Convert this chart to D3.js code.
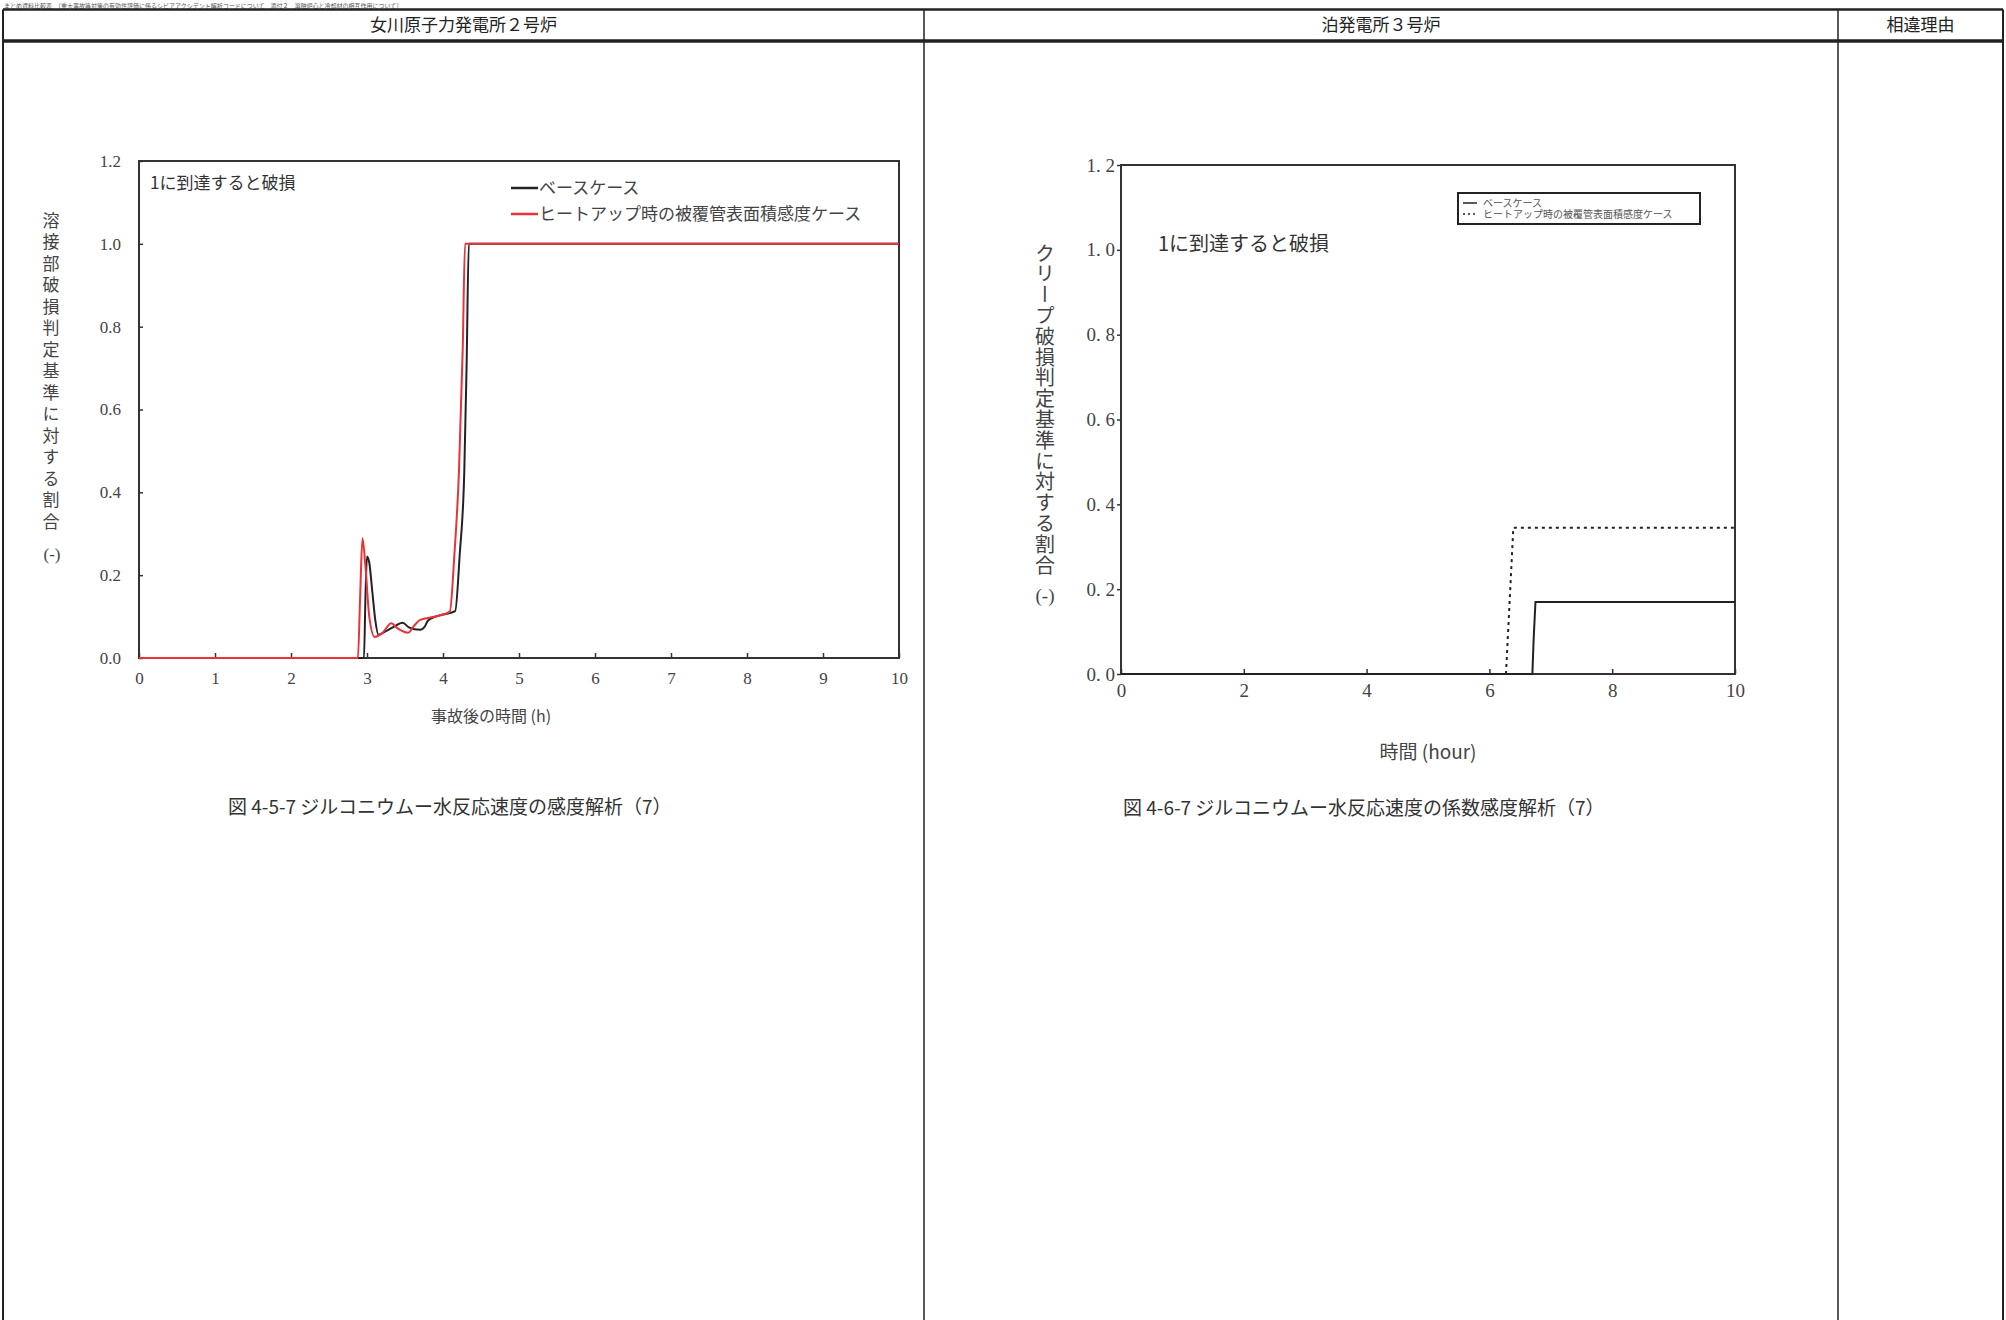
<!DOCTYPE html>
<html>
<head>
<meta charset="utf-8">
<script src="https://cdn.jsdelivr.net/npm/d3@7"></script>
<style>
  body { margin: 0; background: #fff; }
  svg { display: block; }
  text { font-family: "Liberation Serif", "Noto Sans CJK JP", serif; fill: #333; }
  .jp { font-family: "Noto Sans CJK JP", sans-serif; }
</style>
</head>
<body>
<script>
/*
    DATA
*/
// table header cells
var headers = ["女川原子力発電所２号炉", "泊発電所３号炉", "相違理由"];
var captions = ["図 4-5-7 ジルコニウムー水反応速度の感度解析（7）", "図 4-6-7 ジルコニウムー水反応速度の係数感度解析（7）"];

// left chart (Onagawa): base case (black) and heat-up surface area case (red)
var leftXTicks = [0, 1, 2, 3, 4, 5, 6, 7, 8, 9, 10];
var leftYTicks = [0, 0.2, 0.4, 0.6, 0.8, 1.0, 1.2];
var leftBaseT = [0, 2.96, 2.98, 3.0, 3.03, 3.07, 3.11, 3.15, 3.25, 3.35, 3.47, 3.55, 3.7, 3.76, 3.8, 3.9, 4.0, 4.16, 4.22, 4.28, 4.31, 4.34, 10];
var leftBaseV = [0, 0, 0.15, 0.245, 0.23, 0.16, 0.09, 0.056, 0.065, 0.075, 0.085, 0.074, 0.068, 0.076, 0.09, 0.1, 0.105, 0.113, 0.25, 0.45, 0.7, 1.0, 1.0];
var leftRedT = [0, 2.88, 2.91, 2.94, 2.98, 3.03, 3.1, 3.2, 3.32, 3.4, 3.54, 3.62, 3.7, 3.9, 4.09, 4.15, 4.21, 4.26, 4.29, 10];
var leftRedV = [0, 0, 0.15, 0.289, 0.22, 0.1, 0.051, 0.06, 0.084, 0.072, 0.061, 0.078, 0.092, 0.1, 0.112, 0.25, 0.45, 0.75, 1.0, 1.0];
var leftLegend = ["ベースケース", "ヒートアップ時の被覆管表面積感度ケース"];

// right chart (Tomari): base case (solid) and heat-up case (dotted)
var rightXTicks = [0, 2, 4, 6, 8, 10];
var rightYTicks = [0, 0.2, 0.4, 0.6, 0.8, 1.0, 1.2];
var rightBaseT = [0, 6.70, 6.72, 6.75, 10];
var rightBaseV = [0, 0, 0.08, 0.17, 0.17];
var rightDotT = [0, 6.27, 6.39, 10];
var rightDotV = [0, 0, 0.345, 0.345];
var rightLegend = ["ベースケース", "ヒートアップ時の被覆管表面積感度ケース"];

function zip(t, v) { return t.map(function(d, i) { return [d, v[i]]; }); }

/*
    PAGE
*/
var W = 2006, H = 1320;
var svg = d3.select("body").append("svg").attr("width", W).attr("height", H);
svg.append("rect").attr("width", W).attr("height", H).attr("fill", "#fff");

// small title line at very top of the page (cut off in the source scan)
svg.append("text").attr("class", "jp")
  .attr("x", 4).attr("y", 8)
  .style("font-size", "6px").style("fill", "#555")
  .text("まとめ資料比較表　〔重大事故等対策の有効性評価に係るシビアアクシデント解析コードについて　添付２　溶融炉心と冷却材の相互作用について〕");

/*
    TABLE
*/
var colX = [3, 924, 1838, 2003];
var tbl = svg.append("g").attr("stroke", "#222").attr("fill", "none");
tbl.append("line").attr("x1", colX[0]).attr("x2", colX[3]).attr("y1", 9.5).attr("y2", 9.5).attr("stroke-width", 2.5);
tbl.append("line").attr("x1", colX[0]).attr("x2", colX[3]).attr("y1", 41).attr("y2", 41).attr("stroke-width", 3.5);
colX.forEach(function(x, i) {
  tbl.append("line").attr("x1", x).attr("x2", x).attr("y1", 9.5).attr("y2", H)
    .attr("stroke-width", (i == 0 || i == 3) ? 2 : 1.5);
});
headers.forEach(function(h, i) {
  svg.append("text").attr("class", "jp")
    .attr("x", (colX[i] + colX[i + 1]) / 2).attr("y", 31)
    .attr("text-anchor", "middle").style("font-size", "17px").style("fill", "#222")
    .text(h);
});

/*
    LEFT CHART
*/
var lx = d3.scaleLinear().domain([0, 10]).range([139, 899]);
var ly = d3.scaleLinear().domain([0, 1.2]).range([658, 161]);

var left = svg.append("g");
left.append("rect").attr("x", lx(0)).attr("y", ly(1.2))
  .attr("width", lx(10) - lx(0)).attr("height", ly(0) - ly(1.2))
  .attr("fill", "none").attr("stroke", "#333").attr("stroke-width", 2);

var lxAxis = left.append("g").attr("transform", "translate(0," + ly(0) + ")")
  .call(d3.axisBottom(lx).tickValues(leftXTicks).tickFormat(d3.format("d")).tickSizeInner(-5).tickSizeOuter(0).tickPadding(14));
var lyAxis = left.append("g").attr("transform", "translate(" + lx(0) + ",0)")
  .call(d3.axisLeft(ly).tickValues(leftYTicks).tickFormat(d3.format(".1f")).tickSizeInner(-4).tickSizeOuter(0).tickPadding(18));
[lxAxis, lyAxis].forEach(function(a) {
  a.select(".domain").remove();
  a.selectAll("line").attr("stroke", "#333").attr("stroke-width", 1.5);
  a.selectAll("text").style("font-size", "17px").style("fill", "#444")
    .style("font-family", "Liberation Serif, serif");
});

var lline = d3.line().x(function(d) { return lx(d[0]); }).y(function(d) { return ly(d[1]); })
  .curve(d3.curveMonotoneX);
left.append("path").datum(zip(leftBaseT, leftBaseV)).attr("d", lline)
  .attr("fill", "none").attr("stroke", "#222").attr("stroke-width", 2);
left.append("path").datum(zip(leftRedT, leftRedV)).attr("d", lline)
  .attr("fill", "none").attr("stroke", "#e8333a").attr("stroke-width", 2);

left.append("text").attr("class", "jp").attr("x", 150).attr("y", 189)
  .style("font-size", "17px").text("1に到達すると破損");

// legend
var lcols = ["#222", "#e8333a"];
leftLegend.forEach(function(t, i) {
  var y = 188 + i * 26;
  left.append("line").attr("x1", 511).attr("x2", 538).attr("y1", y).attr("y2", y)
    .attr("stroke", lcols[i]).attr("stroke-width", 2.5);
  left.append("text").attr("class", "jp").attr("x", 539).attr("y", y + 6)
    .style("font-size", "17px").style("fill", "#444").text(t);
});

// axis titles
left.append("text").attr("class", "jp")
  .attr("x", 51).attr("y", 212)
  .style("writing-mode", "vertical-rl").style("text-orientation", "upright")
  .style("font-size", "17px").style("letter-spacing", "4.5px").style("fill", "#444")
  .text("溶接部破損判定基準に対する割合");
left.append("text").attr("x", 52).attr("y", 560).attr("text-anchor", "middle")
  .style("font-size", "17px").style("fill", "#444").text("(-)");
left.append("text").attr("class", "jp").attr("x", 491).attr("y", 722).attr("text-anchor", "middle")
  .style("font-size", "16px").style("fill", "#444").text("事故後の時間 (h)");

svg.append("text").attr("class", "jp").attr("x", 228).attr("y", 814)
  .style("font-size", "19px").style("fill", "#333").text(captions[0]);

/*
    RIGHT CHART
*/
var rx = d3.scaleLinear().domain([0, 10]).range([1121, 1735]);
var ry = d3.scaleLinear().domain([0, 1.2]).range([674, 165]);

var right = svg.append("g");
right.append("rect").attr("x", rx(0)).attr("y", ry(1.2))
  .attr("width", rx(10) - rx(0)).attr("height", ry(0) - ry(1.2))
  .attr("fill", "none").attr("stroke", "#333").attr("stroke-width", 2);

var rxAxis = right.append("g").attr("transform", "translate(0," + ry(0) + ")")
  .call(d3.axisBottom(rx).tickValues(rightXTicks).tickFormat(d3.format("d")).tickSizeInner(-5).tickSizeOuter(0).tickPadding(10));
var ryAxis = right.append("g").attr("transform", "translate(" + rx(0) + ",0)")
  .call(d3.axisLeft(ry).tickValues(rightYTicks).tickFormat(function(d) { return d3.format(".1f")(d).replace(".", ". "); })
    .tickSizeInner(4).tickSizeOuter(0).tickPadding(2));
[rxAxis, ryAxis].forEach(function(a) {
  a.select(".domain").remove();
  a.selectAll("line").attr("stroke", "#333").attr("stroke-width", 1.5);
  a.selectAll("text").style("font-size", "19px").style("fill", "#444")
    .style("font-family", "Liberation Serif, serif");
});
ryAxis.selectAll("text").style("white-space", "pre");

var rline = d3.line().x(function(d) { return rx(d[0]); }).y(function(d) { return ry(d[1]); });
right.append("path").datum(zip(rightBaseT, rightBaseV)).attr("d", rline)
  .attr("fill", "none").attr("stroke", "#222").attr("stroke-width", 2);
right.append("path").datum(zip(rightDotT, rightDotV)).attr("d", rline)
  .attr("fill", "none").attr("stroke", "#222").attr("stroke-width", 2).attr("stroke-dasharray", "3,4");

right.append("text").attr("class", "jp").attr("x", 1158).attr("y", 251)
  .style("font-size", "20px").style("fill", "#333").text("1に到達すると破損");

// legend box
right.append("rect").attr("x", 1458).attr("y", 193).attr("width", 242).attr("height", 31)
  .attr("fill", "#fff").attr("stroke", "#222").attr("stroke-width", 2);
rightLegend.forEach(function(t, i) {
  var y = 203 + i * 11;
  right.append("line").attr("x1", 1463).attr("x2", 1477).attr("y1", y).attr("y2", y)
    .attr("stroke", "#222").attr("stroke-width", 1.5).attr("stroke-dasharray", i == 0 ? null : "2,3");
  right.append("text").attr("class", "jp").attr("x", 1483).attr("y", y + 4)
    .style("font-size", "10px").style("fill", "#555").text(t);
});

right.append("text").attr("class", "jp")
  .attr("x", 1045).attr("y", 243)
  .style("writing-mode", "vertical-rl").style("text-orientation", "upright")
  .style("font-size", "20px").style("letter-spacing", "0.8px").style("fill", "#444")
  .text("クリープ破損判定基準に対する割合");
right.append("text").attr("x", 1045).attr("y", 602).attr("text-anchor", "middle")
  .style("font-size", "19px").style("fill", "#444").text("(-)");
right.append("text").attr("class", "jp").attr("x", 1428).attr("y", 759).attr("text-anchor", "middle")
  .style("font-size", "19px").style("fill", "#444").text("時間 (hour)");

svg.append("text").attr("class", "jp").attr("x", 1123).attr("y", 815)
  .style("font-size", "19px").style("fill", "#333").text(captions[1]);
</script>
</body>
</html>
